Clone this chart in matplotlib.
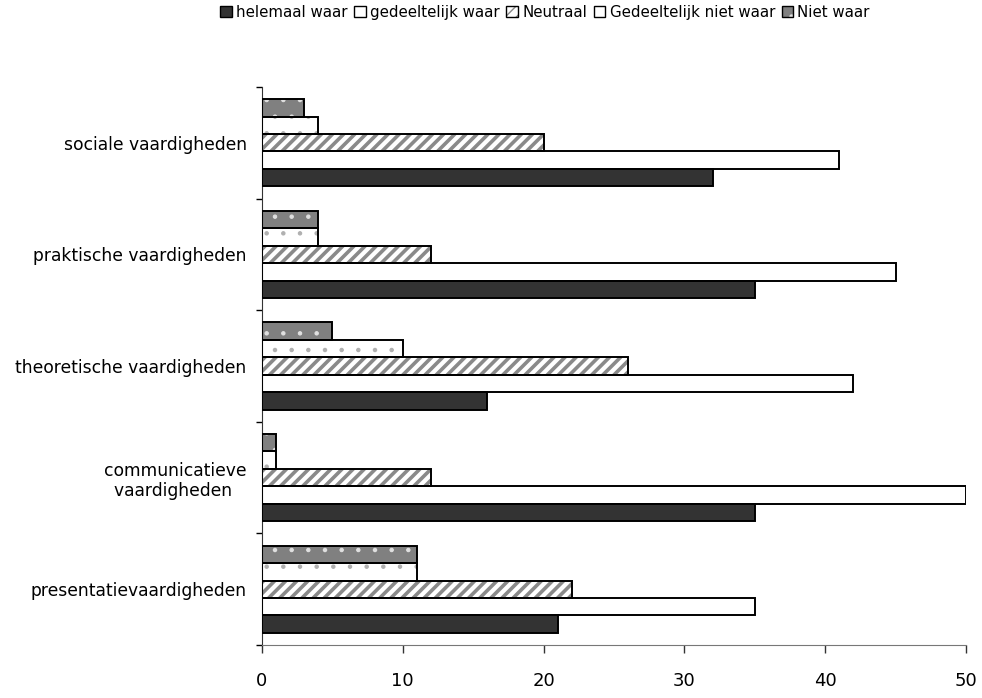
import matplotlib
matplotlib.use("Agg")
import matplotlib.pyplot as plt
from matplotlib.patches import Patch
import numpy as np

plt.rcParams.update({"font.family": "DejaVu Sans"})

# ── data ──────────────────────────────────────────────
categories = ["sociale vaardigheden", "praktische vaardigheden",
              "theoretische vaardigheden", "communicatieve\nvaardigheden ",
              "presentatievaardigheden"]
series = ["helemaal waar", "gedeeltelijk waar", "Neutraal",
          "Gedeeltelijk niet waar", "Niet waar"]
helemaal_waar = [32, 35, 16, 35, 21]
gedeeltelijk_waar = [41, 45, 42, 50, 35]
neutraal = [20, 12, 26, 12, 22]
gedeeltelijk_niet_waar = [4, 4, 10, 1, 11]
niet_waar = [3, 4, 5, 1, 11]
x_ticks = [0, 10, 20, 30, 40, 50]

values = [helemaal_waar, gedeeltelijk_waar, neutraal,
          gedeeltelijk_niet_waar, niet_waar]
# face, hatch, hatch colour, hatch linewidth
styles = [("#333333", None, None, 1.0),
          ("white", None, None, 1.0),
          ("white", "///", "#8a8a8a", 2.6),
          ("white", ".", "#b0b0b0", 0.8),
          ("#808080", ".", "#e0e0e0", 0.8)]

fig = plt.figure(figsize=(9.82, 6.98), dpi=100)
ax = fig.add_axes([0.2668, 0.0759, 0.9837 - 0.2668, 0.8754 - 0.0759])

y = np.arange(len(categories))[::-1].astype(float)
h = 0.156
handles = []
for k, (vals, (fc, hatch, hc, hlw)) in enumerate(zip(values, styles)):
    pos = y + (k - 2) * h
    with plt.rc_context({"hatch.linewidth": hlw}):
        if hatch:
            ax.barh(pos, vals, height=h, color=fc, edgecolor=hc, hatch=hatch,
                    linewidth=0, zorder=2)
            fill = Patch(facecolor=fc, edgecolor=hc, hatch=hatch, linewidth=0)
        else:
            ax.barh(pos, vals, height=h, color=fc, linewidth=0, zorder=2)
            fill = Patch(facecolor=fc, linewidth=0)
    ax.barh(pos, vals, height=h, fill=False, edgecolor="black",
            linewidth=1.4, zorder=3)
    outline = Patch(fill=False, edgecolor="black", linewidth=1)
    handles.append((fill, outline))

ax.set_xlim(0, 50)
ax.set_ylim(-0.5, len(categories) - 0.5)
ax.set_xticks(x_ticks)
ax.set_xticklabels([str(t) for t in x_ticks], fontsize=13)
ax.tick_params(axis="x", direction="out", length=5.5, width=1, pad=14,
               colors="#333333", labelcolor="black")
ax.set_yticks(y)
ax.set_yticklabels(categories, fontsize=12.3, multialignment="center")
ax.tick_params(axis="y", length=0, pad=11)
ax.set_yticks(np.arange(len(categories) + 1) - 0.5, minor=True)
ax.tick_params(axis="y", which="minor", direction="out", length=4, width=1)
for s in ["top", "right"]:
    ax.spines[s].set_visible(False)
ax.spines["left"].set_color("#333333")
ax.spines["bottom"].set_color("#777777")

fig.legend(handles, series, loc="upper center", bbox_to_anchor=(0.555, 1.012),
           ncol=5, frameon=False, fontsize=10.8, handlelength=0.75,
           handleheight=0.75, handletextpad=0.3, columnspacing=0.45)

fig.savefig("out.png", dpi=100)
